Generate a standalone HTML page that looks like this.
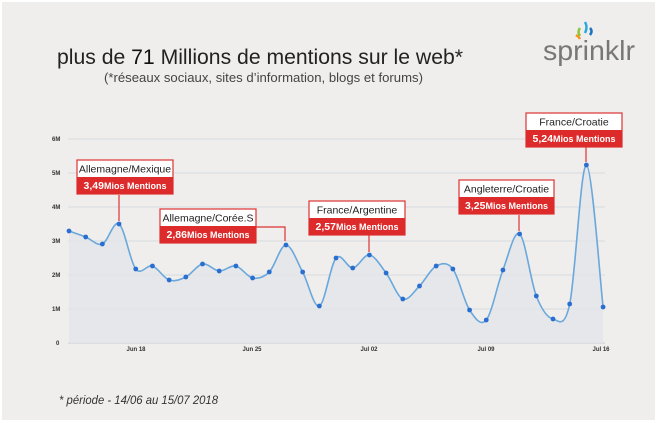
<!DOCTYPE html>
<html><head><meta charset="utf-8"><style>
html,body{margin:0;padding:0;background:#fff;}
body{width:660px;height:423px;overflow:hidden;position:relative;font-family:"Liberation Sans",sans-serif;}
#bg{position:absolute;left:2px;top:2px;width:653px;height:418px;background:#efeeed;}
svg{position:absolute;left:0;top:0;}
</style></head><body>
<div id="bg"></div>
<svg id="s" width="660" height="423" viewBox="0 0 660 423" xmlns="http://www.w3.org/2000/svg">
<text x="57" y="64" font-size="21" fill="#222" textLength="406" lengthAdjust="spacingAndGlyphs">plus de <tspan fill="#111">71</tspan> Millions de mentions sur le web*</text>
<text x="104" y="82" font-size="13" fill="#444" textLength="319" lengthAdjust="spacingAndGlyphs">(*réseaux sociaux, sites d’information, blogs et forums)</text>
<text x="543" y="60" font-size="28" fill="#777" textLength="92" lengthAdjust="spacingAndGlyphs">sprinklr</text>
<g>
<path d="M580 28 q-3 4 0 8" stroke="#8cc63f" stroke-width="2.5" fill="none"/>
<path d="M585 22 q3 5 0 11" stroke="#2aa9e0" stroke-width="2.5" fill="none"/>
<path d="M590 28 q3 3 0 7" stroke="#1c75bc" stroke-width="2.5" fill="none"/>
<path d="M576 35 q3 2 4 4" stroke="#f7941d" stroke-width="2.5" fill="none"/>
</g>
<g id="grid" font-size="6" fill="#333" font-weight="bold"></g>
<path id="area" fill="#e3e5e9" opacity="0.8"/>
<path id="line" fill="none" stroke="#6aa8dc" stroke-width="1.6"/>
<g id="dots" fill="#2a6fd0"></g>
<g id="ann"></g>
<text x="59" y="404" font-size="12" font-style="italic" fill="#333" textLength="159" lengthAdjust="spacingAndGlyphs">* période - 14/06 au 15/07 2018</text>
</svg>
<script>
var NS="http://www.w3.org/2000/svg";
function el(t,a,p,txt){var e=document.createElementNS(NS,t);for(var k in a)e.setAttribute(k,a[k]);if(txt)e.textContent=txt;p.appendChild(e);return e;}
var g=document.getElementById('grid');
for(var i=0;i<=6;i++){var y=343-34*i;el('line',{x1:68,x2:605,y1:y,y2:y,stroke:i==0?'#c8ccd4':'#d6dae0','stroke-width':1},g);el('text',{x:i==0?56:52,y:y+2},g,i==0?'0':i+'M');}
[[136,'Jun 18'],[252,'Jun 25'],[369,'Jul 02'],[486,'Jul 09'],[601,'Jul 16']].forEach(function(d){el('text',{x:d[0],y:351,'text-anchor':'middle'},g,d[1]);});
var ys=[231,237,244,224,269,266,280,277,264,271,266,278,272,245,272,306,258,268,255,273,299,286,266,269,310,320,270,234,296,319,304,165,307];
var P=ys.map(function(y,i){return [69+i*16.69,y];});
var d='M'+P[0][0]+' '+P[0][1];
for(var i=0;i<P.length-1;i++){var p0=P[Math.max(0,i-1)],p1=P[i],p2=P[i+1],p3=P[Math.min(P.length-1,i+2)];
var c1=[p1[0]+(p2[0]-p0[0])/6,p1[1]+(p2[1]-p0[1])/6],c2=[p2[0]-(p3[0]-p1[0])/6,p2[1]-(p3[1]-p1[1])/6];
d+=' C'+c1[0]+' '+c1[1]+' '+c2[0]+' '+c2[1]+' '+p2[0]+' '+p2[1];}
document.getElementById('line').setAttribute('d',d);
document.getElementById('area').setAttribute('d',d+' L'+P[P.length-1][0]+' 343 L69 343 Z');
var dt=document.getElementById('dots');P.forEach(function(p){el('circle',{cx:p[0],cy:p[1],r:2.4},dt);});
var a=document.getElementById('ann');
function box(x1,x2,y,t1,t2){el('rect',{x:x1,y:y,width:x2-x1,height:34,fill:'#fff',stroke:'#d33',"stroke-width":1.2},a);
el('rect',{x:x1,y:y+17,width:x2-x1,height:17,fill:'#dd2a2a'},a);
var cx=(x1+x2)/2;el('text',{x:cx,y:y+12.5,'text-anchor':'middle','font-size':10.5,fill:'#222'},a,t1);
var t=el('text',{x:cx,y:y+29,'text-anchor':'middle','font-size':10.5,fill:'#fff','font-weight':'bold'},a,'');
t.innerHTML=t2+'<tspan font-size="9">Mios Mentions</tspan>';}
function ln(pts){el('polyline',{points:pts,fill:'none',stroke:'#d33','stroke-width':1.2},a);}
ln('119,195 119,221');box(77,173,160,'Allemagne/Mexique','3,49');
ln('256,227 285,227 285,241');box(160,256,209,'Allemagne/Corée.S','2,86');
ln('369,235 369,252');box(309,405,201,'France/Argentine','2,57');
ln('519,215 519,231');box(459,554,180,'Angleterre/Croatie','3,25');
ln('586,147 586,162');box(526,622,113,'France/Croatie','5,24');
</script>
</body></html>
